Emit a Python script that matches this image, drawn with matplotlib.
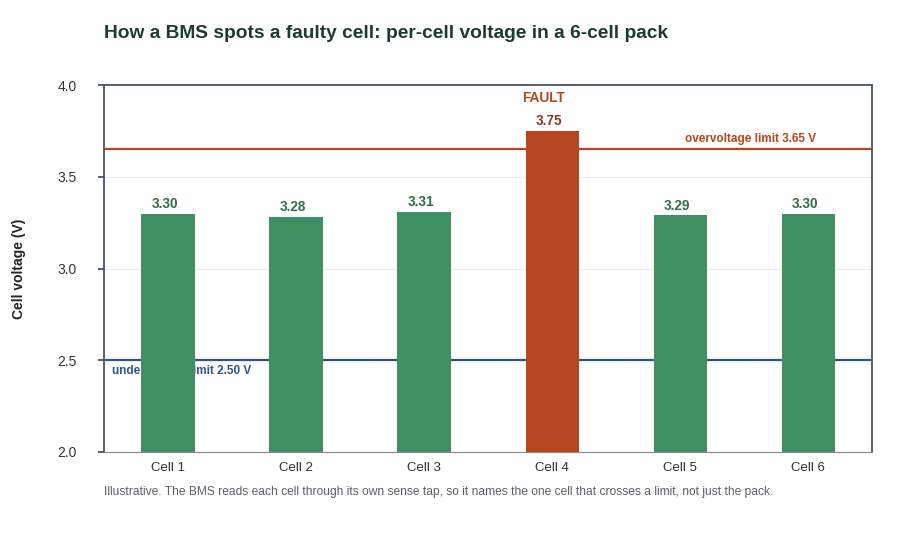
import matplotlib
matplotlib.use("Agg")
import matplotlib.pyplot as plt

# ----------------------------
# Data
# ----------------------------
cells = ["Cell 1", "Cell 2", "Cell 3", "Cell 4", "Cell 5", "Cell 6"]
voltages = [3.30, 3.28, 3.31, 3.75, 3.29, 3.30]
value_labels = ["3.30", "3.28", "3.31", "3.75", "3.29", "3.30"]
fault_index = 3
over_limit = 3.65
under_limit = 2.50
y_ticks = [2.0, 2.5, 3.0, 3.5, 4.0]

GREEN = "#3f8f63"
RED = "#b5461f"
BLUE = "#2f5589"
SPINE = "#4a5560"

plt.rcParams["font.family"] = ["Liberation Sans", "DejaVu Sans"]

fig = plt.figure(figsize=(9.2, 5.6), dpi=100)
ax = fig.add_axes([0.113, 0.193, 0.835, 0.655])

colors = [RED if i == fault_index else GREEN for i in range(len(cells))]
x = list(range(len(cells)))
ax.bar(x, voltages, width=0.415, color=colors, zorder=3)

# limit lines
ax.axhline(over_limit, color=RED, lw=1.6, zorder=2)
ax.axhline(under_limit, color=BLUE, lw=1.6, zorder=2)
ax.text(5.06, over_limit + 0.025, "overvoltage limit 3.65 V", color=RED,
        fontsize=8.5, fontweight="bold", ha="right", va="bottom", zorder=2)
ax.text(-0.44, under_limit - 0.025, "undervoltage limit 2.50 V", color=BLUE,
        fontsize=8.5, fontweight="bold", ha="left", va="top", zorder=1)

# value labels
for i, (v, lab) in enumerate(zip(voltages, value_labels)):
    c = "#8f3a1c" if i == fault_index else "#2f6e4b"
    ax.annotate(lab, (i, v), xytext=(-2.5, 2), textcoords="offset points",
                ha="center", va="bottom", fontsize=9.8, fontweight="bold",
                color=c)
ax.annotate("FAULT", (fault_index, voltages[fault_index]), xytext=(-6.5, 19),
            textcoords="offset points", ha="center", va="bottom",
            fontsize=9.8, fontweight="bold", color=RED)

ax.set_xlim(-0.5, len(cells) - 0.5)
ax.set_ylim(2.0, 4.0)
ax.set_yticks(y_ticks)
ax.set_yticklabels([f"{t:.1f}" for t in y_ticks])
ax.set_xticks(x)
ax.set_xticklabels(cells)
ax.grid(axis="y", color="#ebebef", lw=0.8, zorder=0)
ax.set_axisbelow(True)

for side in ["left", "top", "right"]:
    ax.spines[side].set_color(SPINE)
    ax.spines[side].set_linewidth(1.3)
ax.spines["bottom"].set_color("#8a9098")
ax.spines["bottom"].set_linewidth(0.9)
ax.tick_params(axis="y", length=4, width=1.3, color=SPINE, labelsize=10,
               labelcolor="#333333", pad=15.5)
ax.tick_params(axis="x", length=0, labelsize=9.5, labelcolor="#333333", pad=7)

ax.set_ylabel("Cell voltage (V)", fontsize=10, fontweight="bold",
              color="#222222", labelpad=23)

fig.text(0.113, 0.94, "How a BMS spots a faulty cell: per-cell voltage in a 6-cell pack",
         fontsize=13.8, fontweight="bold", color="#1f3a2e", ha="left", va="center")
fig.text(0.113, 0.121,
         "Illustrative. The BMS reads each cell through its own sense tap, so it names "
         "the one cell that crosses a limit, not just the pack.",
         fontsize=8.65, color="#5a6068", ha="left", va="center")

fig.savefig("out.png", dpi=100)
